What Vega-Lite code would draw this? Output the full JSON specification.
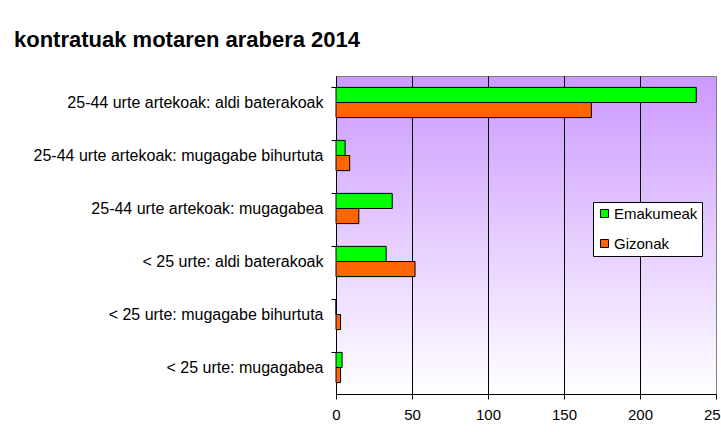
{
  "$schema": "https://vega.github.io/schema/vega-lite/v6.json",
  "width": 380,
  "height": 318,
  "autosize": {"type": "none"},
  "padding": {"left": 336, "top": 76, "right": 5, "bottom": 38},
  "background": "white",
  "title": {
    "text": "kontratuak motaren arabera 2014",
    "anchor": "start",
    "frame": "group",
    "dx": -322,
    "dy": 19,
    "font": "Liberation Sans",
    "fontSize": 22,
    "fontWeight": "bold",
    "color": "black",
    "offset": 26,
    "baseline": "alphabetic"
  },
  "data": {
    "values": [
      {"kategoria": "25-44 urte artekoak: aldi baterakoak", "sexua": "Emakumeak", "balioa": 237},
      {"kategoria": "25-44 urte artekoak: aldi baterakoak", "sexua": "Gizonak", "balioa": 168},
      {"kategoria": "25-44 urte artekoak: mugagabe bihurtuta", "sexua": "Emakumeak", "balioa": 6},
      {"kategoria": "25-44 urte artekoak: mugagabe bihurtuta", "sexua": "Gizonak", "balioa": 9},
      {"kategoria": "25-44 urte artekoak: mugagabea", "sexua": "Emakumeak", "balioa": 37},
      {"kategoria": "25-44 urte artekoak: mugagabea", "sexua": "Gizonak", "balioa": 15},
      {"kategoria": "< 25 urte: aldi baterakoak", "sexua": "Emakumeak", "balioa": 33},
      {"kategoria": "< 25 urte: aldi baterakoak", "sexua": "Gizonak", "balioa": 52},
      {"kategoria": "< 25 urte: mugagabe bihurtuta", "sexua": "Emakumeak", "balioa": 0},
      {"kategoria": "< 25 urte: mugagabe bihurtuta", "sexua": "Gizonak", "balioa": 3},
      {"kategoria": "< 25 urte: mugagabea", "sexua": "Emakumeak", "balioa": 4},
      {"kategoria": "< 25 urte: mugagabea", "sexua": "Gizonak", "balioa": 3}
    ]
  },
  "mark": {"type": "bar", "stroke": "black", "strokeWidth": 1},
  "encoding": {
    "y": {
      "field": "kategoria",
      "type": "nominal",
      "sort": [
        "25-44 urte artekoak: aldi baterakoak",
        "25-44 urte artekoak: mugagabe bihurtuta",
        "25-44 urte artekoak: mugagabea",
        "< 25 urte: aldi baterakoak",
        "< 25 urte: mugagabe bihurtuta",
        "< 25 urte: mugagabea"
      ],
      "scale": {"paddingInner": 0.43, "paddingOuter": 0.215},
      "axis": {
        "title": null,
        "labelFont": "Liberation Sans",
        "labelFontSize": 16,
        "labelColor": "black",
        "domainColor": "black",
        "tickColor": "black",
        "tickSize": 5,
        "bandPosition": 0,
        "labelPadding": 8,
        "labelLimit": 400
      }
    },
    "yOffset": {
      "field": "sexua",
      "sort": ["Emakumeak", "Gizonak"],
      "scale": {"paddingInner": 0, "paddingOuter": 0}
    },
    "x": {
      "field": "balioa",
      "type": "quantitative",
      "scale": {"domain": [0, 250], "nice": false},
      "axis": {
        "title": null,
        "values": [0, 50, 100, 150, 200, 250],
        "grid": true,
        "gridColor": {"condition": {"test": "datum.value === 250", "value": "#808080"}, "value": "black"},
        "gridOpacity": 1,
        "domainColor": "black",
        "tickColor": "black",
        "tickSize": 5,
        "labelFont": "Liberation Sans",
        "labelFontSize": 15,
        "labelColor": "black",
        "labelPadding": 8,
        "labelFlush": false
      }
    },
    "color": {
      "field": "sexua",
      "type": "nominal",
      "scale": {"domain": ["Emakumeak", "Gizonak"], "range": ["#00ff00", "#ff6600"]},
      "legend": {
        "title": null,
        "orient": "none",
        "legendX": 257,
        "legendY": 126,
        "strokeColor": "black",
        "fillColor": "white",
        "padding": 4,
        "symbolType": "square",
        "symbolSize": 64,
        "symbolStrokeColor": "black",
        "symbolStrokeWidth": 1,
        "labelFont": "Liberation Sans",
        "labelFontSize": 15,
        "labelColor": "black",
        "labelOffset": 2,
        "rowPadding": 14,
        "labelLimit": 100
      }
    }
  },
  "config": {
    "view": {
      "fill": {
        "gradient": "linear",
        "x1": 0, "y1": 0, "x2": 0, "y2": 1,
        "stops": [
          {"offset": 0, "color": "#cc99ff"},
          {"offset": 1, "color": "#ffffff"}
        ]
      },
      "stroke": "#808080",
      "strokeWidth": 1
    }
  }
}
